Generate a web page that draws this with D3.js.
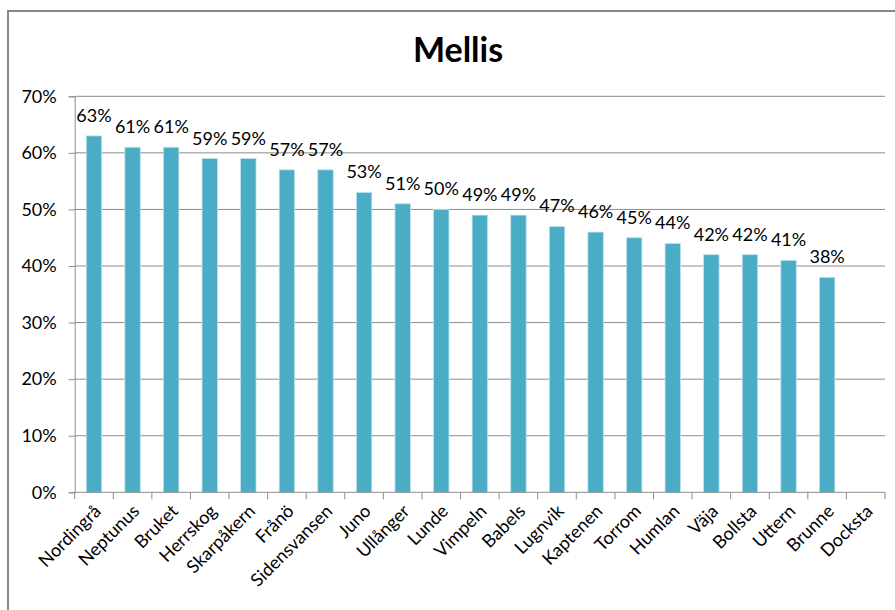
<!DOCTYPE html>
<html>
<head>
<meta charset="utf-8">
<script src="https://cdn.jsdelivr.net/npm/d3@7"></script>
<style>
  body { margin: 0; background: #fff; }
  svg text { font-family: Lato, "Noto Sans", sans-serif; fill: #000; }
</style>
</head>
<body>
<svg id="chart" width="895" height="610"></svg>
<script>
const title = "Mellis";
const categories = ["Nordingrå", "Neptunus", "Bruket", "Herrskog", "Skarpåkern", "Frånö",
  "Sidensvansen", "Juno", "Ullånger", "Lunde", "Vimpeln", "Babels", "Lugnvik", "Kaptenen",
  "Torrom", "Humlan", "Väja", "Bollsta", "Uttern", "Brunne", "Docksta"];
const values = [0.63, 0.61, 0.61, 0.59, 0.59, 0.57, 0.57, 0.53, 0.51, 0.50, 0.49, 0.49,
  0.47, 0.46, 0.45, 0.44, 0.42, 0.42, 0.41, 0.38, null];
const yTicks = [0, 0.1, 0.2, 0.3, 0.4, 0.5, 0.6, 0.7];

const svg = d3.select("#chart");
const margin = { left: 74.7, right: 885, top: 96.3, bottom: 492.3 };

// outer frame, cut off at the right and bottom like the screenshot
svg.append("rect")
  .attr("x", 8).attr("y", 11)
  .attr("width", 1000).attr("height", 1000)
  .attr("fill", "none")
  .attr("stroke", "#878787")
  .attr("stroke-width", 2);

svg.append("text")
  .attr("x", 458).attr("y", 62)
  .attr("text-anchor", "middle")
  .attr("font-size", 34)
  .attr("font-weight", "bold")
  .text(title);

const x = d3.scaleBand()
  .domain(categories)
  .range([margin.left, margin.right])
  .paddingInner(0.6)
  .paddingOuter(0.3);

const y = d3.scaleLinear()
  .domain([0, 0.7])
  .range([margin.bottom, margin.top]);

// gridlines
svg.append("g")
  .selectAll("line")
  .data(yTicks.slice(1))
  .join("line")
  .attr("x1", margin.left).attr("x2", margin.right)
  .attr("y1", d => y(d)).attr("y2", d => y(d))
  .attr("stroke", "#8c8c8c")
  .attr("stroke-width", 1);

// y axis
const yAxis = svg.append("g")
  .attr("transform", `translate(${margin.left},0)`)
  .call(d3.axisLeft(y).tickValues(yTicks).tickFormat(d3.format(".0%")).tickSizeOuter(0).tickSize(6).tickPadding(12));
yAxis.selectAll("path, line").attr("stroke", "#8c8c8c");
yAxis.selectAll("text").attr("font-size", 18).attr("font-family", "Lato, sans-serif");

const barData = categories.map((c, i) => ({ c, v: values[i] })).filter(d => d.v != null);

// bars
svg.append("g")
  .selectAll("rect")
  .data(barData)
  .join("rect")
  .attr("x", d => x(d.c))
  .attr("y", d => y(d.v))
  .attr("width", x.bandwidth())
  .attr("height", d => y(0) - y(d.v))
  .attr("fill", "#4bacc6")
  .attr("stroke", "#bfe3ee")
  .attr("stroke-width", 0.8);

// data labels
svg.append("g")
  .selectAll("text")
  .data(barData)
  .join("text")
  .attr("x", d => x(d.c) + x.bandwidth() / 2)
  .attr("y", d => y(d.v) - 14)
  .attr("text-anchor", "middle")
  .attr("font-size", 18)
  .text(d => d3.format(".0%")(d.v));

// x axis with ticks between categories
const xAxisG = svg.append("g");
xAxisG.append("line")
  .attr("x1", margin.left).attr("x2", margin.right)
  .attr("y1", y(0)).attr("y2", y(0))
  .attr("stroke", "#8c8c8c");
const tickX = i => margin.left + i * (margin.right - margin.left) / categories.length;
xAxisG.selectAll(".tk")
  .data(d3.range(categories.length + 1))
  .join("line")
  .attr("class", "tk")
  .attr("x1", tickX)
  .attr("x2", tickX)
  .attr("y1", y(0)).attr("y2", y(0) + 7)
  .attr("stroke", "#8c8c8c");

xAxisG.selectAll(".lbl")
  .data(categories)
  .join("text")
  .attr("class", "lbl")
  .attr("text-anchor", "end")
  .attr("font-size", 18)
  .attr("transform", d => `translate(${x(d) + x.bandwidth() / 2 + 8},${y(0) + 20}) rotate(-45)`)
  .text(d => d);
</script>
</body>
</html>
